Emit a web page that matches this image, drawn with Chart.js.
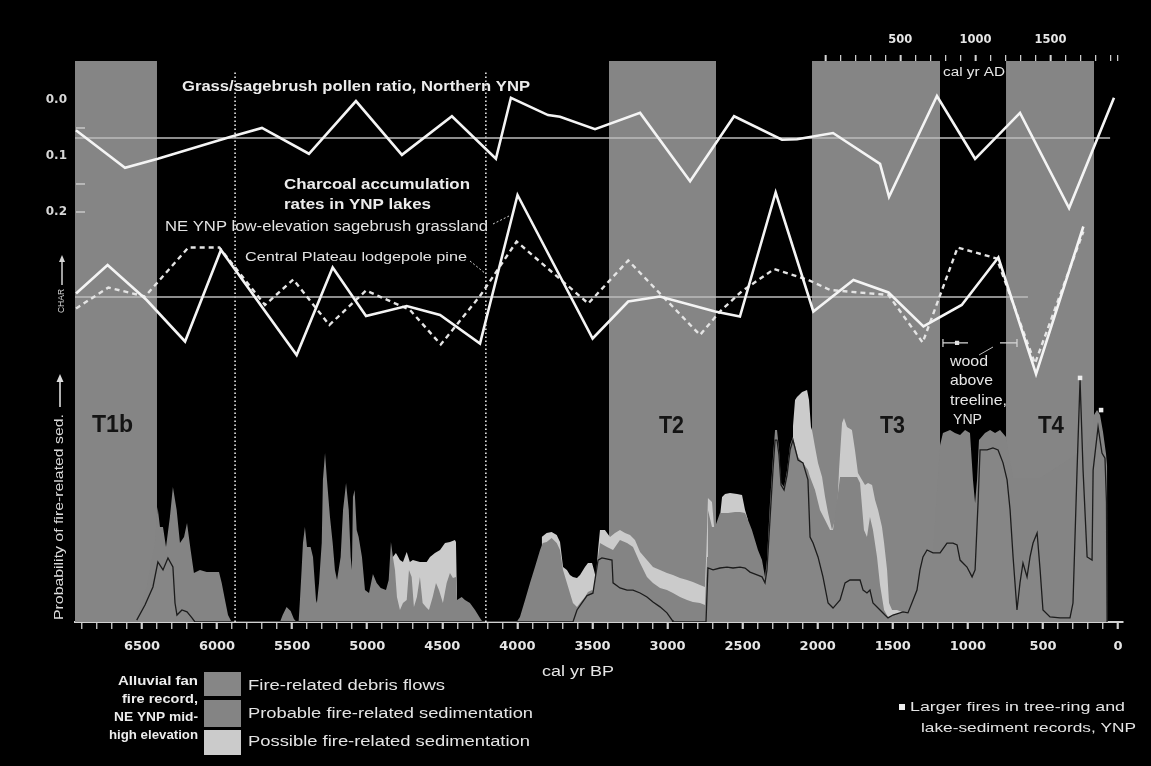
<!DOCTYPE html>
<html>
<head>
<meta charset="utf-8">
<title>Fire, charcoal and pollen records, Yellowstone</title>
<script src="https://cdn.jsdelivr.net/npm/chart.js@4.4.1/dist/chart.umd.min.js"></script>
<style>
  html, body { margin: 0; padding: 0; background: #000; }
  #wrap { width: 1151px; height: 766px; }
</style>
</head>
<body>
<div id="wrap"><canvas id="chart" width="1151" height="766"></canvas></div>
<script>
// ---------------------------------------------------------------
// Data (time in cal yr BP)
// ---------------------------------------------------------------
const BP_MIN = -33, BP_MAX = 6946;

// Dry intervals (shaded)
const phaseNames = ['T1b', 'T2', 'T3', 'T4'];
const phaseStart = [6950, 3390, 2038, 746];
const phaseEnd   = [6400, 2677, 1185, 160];

// Dotted dividers
const dividerYears = [5880, 4210];

// Grass/sagebrush pollen ratio, Northern YNP
const pollenYears = [6940, 6613, 6394, 5914, 5701, 5388, 5075, 4769, 4436, 4143, 4043, 3796, 3716, 3483, 3183, 2850, 2557, 2238, 2138, 1898, 1585, 1525, 1206, 952, 653, 326, 27];
const pollenRatio = [0.054, 0.121, 0.105, 0.066, 0.050, 0.096, 0.002, 0.098, 0.029, 0.105, -0.004, 0.027, 0.030, 0.052, 0.023, 0.145, 0.029, 0.071, 0.070, 0.059, 0.114, 0.173, -0.007, 0.105, 0.023, 0.193, -0.004];
const pollenMean = 0.068;
const pollenMeanSpan = [6946, 53];

// Charcoal accumulation (anomaly from record mean)
const charNEYears = [6939, 6729, 6469, 6213, 5974, 5470, 5230, 5008, 4737, 4515, 4249, 3999, 3499, 3262, 3051, 2684, 2518, 2280, 2029, 1762, 1529, 1296, 1041, 797, 546, 231];
const charNE      = [0.07, 0.64, -0.06, -0.89, 0.94, -1.16, 0.59, -0.38, -0.18, -0.36, -0.93, 2.04, -0.83, -0.09, 0.01, -0.29, -0.39, 2.09, -0.29, 0.34, 0.09, -0.59, -0.16, 0.79, -1.54, 1.41];
const charCPYears = [6939, 6724, 6480, 6191, 5985, 5681, 5492, 5252, 5008, 4715, 4510, 4249, 4005, 3528, 3262, 2784, 2651, 2507, 2290, 2062, 1918, 1529, 1301, 1068, 808, 553, 231];
const charCP      = [-0.23, 0.19, 0.01, 0.99, 0.99, -0.16, 0.35, -0.56, 0.13, -0.26, -0.95, 0.02, 1.11, -0.13, 0.73, -0.76, -0.29, 0.11, 0.56, 0.34, 0.14, 0.04, -0.91, 0.99, 0.77, -1.33, 1.31];
const charMeanSpan = [6946, 600];

// Alluvial-fan fire record: cumulative probability curves [cal yr BP, probability]
const debrisFlows = [
  [6535,0.008],[6480,0.071],[6427,0.146],[6394,0.25],[6360,0.217],[6327,0.267],[6294,0.229],[6280,0.079],[6267,0.029],[6234,0.05],[6200,0.042],[6167,0.017],[6147,0],
  [3630,0],[3603,0.05],[3536,0.11],[3497,0.12],[3463,0.258],[3437,0.267],[3370,0.258],[3363,0.163],[3317,0.142],[3270,0.133],[3230,0.133],[3183,0.121],[3137,0.104],[3097,0.083],[3050,0.063],[3004,0.038],[2970,0.008],[2964,0],
  [2744,0],[2731,0.225],[2697,0.217],[2651,0.225],[2604,0.229],[2564,0.225],[2517,0.229],[2484,0.225],[2451,0.208],[2404,0.196],[2371,0.188],[2351,0.163],[2338,0.217],[2318,0.425],[2298,0.633],[2284,0.758],[2271,0.758],[2258,0.696],[2244,0.571],[2224,0.55],[2204,0.613],[2184,0.717],[2165,0.758],[2131,0.675],[2098,0.663],[2065,0.592],[2051,0.354],[2031,0.329],[1998,0.271],[1965,0.188],[1931,0.079],[1898,0.058],[1851,0.092],[1818,0.163],[1785,0.175],[1718,0.175],[1698,0.133],[1672,0.121],[1652,0.133],[1632,0.079],[1585,0.05],[1552,0.029],[1532,0.017],[1499,0.029],[1432,0.042],[1399,0.038],[1365,0.092],[1339,0.133],[1319,0.217],[1299,0.271],[1272,0.3],[1232,0.288],[1185,0.288],[1139,0.329],[1099,0.329],[1072,0.321],[1052,0.258],[1006,0.229],[972,0.188],[952,0.217],[932,0.5],[919,0.717],[872,0.717],[833,0.725],[799,0.717],[766,0.663],[739,0.592],[719,0.467],[699,0.271],[673,0.05],[653,0.163],[633,0.246],[606,0.188],[586,0.271],[566,0.329],[539,0.371],[519,0.217],[500,0.05],[453,0.021],[386,0.017],[320,0.017],[300,0.079],[273,0.633],[253,1.008],[233,0.633],[206,0.271],[173,0.258],[166,0.633],[133,0.813],[107,0.704],[87,0.683],[77,0.5],[73,0]
];
const probableSed = [
  [6535,0.017],[6469,0.146],[6414,0.329],[6396,0.479],[6380,0.396],[6360,0.396],[6340,0.313],[6314,0.438],[6294,0.563],[6269,0.467],[6247,0.329],[6220,0.354],[6200,0.413],[6176,0.3],[6154,0.204],[6114,0.217],[6069,0.208],[5987,0.208],[5969,0.163],[5947,0.092],[5927,0.029],[5903,0],
  [5581,0],[5563,0.029],[5537,0.063],[5510,0.046],[5488,0.013],[5470,0],[5457,0],[5448,0.092],[5437,0.217],[5428,0.329],[5415,0.396],[5401,0.313],[5377,0.313],[5361,0.271],[5341,0.092],[5335,0.079],[5321,0.163],[5303,0.329],[5295,0.592],[5281,0.704],[5268,0.592],[5248,0.438],[5230,0.329],[5215,0.217],[5201,0.175],[5177,0.271],[5161,0.467],[5141,0.579],[5123,0.467],[5110,0.271],[5102,0.217],[5095,0.521],[5084,0.55],[5070,0.383],[5057,0.354],[5035,0.271],[5015,0.133],[4988,0.121],[4962,0.2],[4937,0.163],[4910,0.142],[4875,0.133],[4857,0.175],[4842,0.333],[4829,0.271],[4815,0.217],[4802,0.104],[4782,0.05],[4762,0.079],[4737,0.092],[4722,0.217],[4704,0.188],[4689,0.063],[4669,0.104],[4649,0.188],[4631,0.079],[4609,0.063],[4589,0.05],[4564,0.104],[4542,0.163],[4522,0.133],[4496,0.079],[4471,0.163],[4449,0.204],[4429,0.183],[4409,0.188],[4402,0.092],[4371,0.104],[4349,0.092],[4316,0.079],[4282,0.05],[4249,0.017],[4231,0],
  [4005,0],[3983,0.021],[3949,0.092],[3916,0.163],[3883,0.229],[3849,0.3],[3831,0.329],[3805,0.333],[3772,0.35],[3738,0.329],[3716,0.3],[3696,0.217],[3670,0.163],[3650,0.121],[3630,0.079],[3603,0.063],[3583,0.079],[3550,0.104],[3530,0.125],[3503,0.133],[3483,0.121],[3470,0.163],[3463,0.271],[3450,0.329],[3403,0.313],[3363,0.3],[3317,0.342],[3270,0.329],[3230,0.313],[3183,0.246],[3137,0.188],[3097,0.163],[3050,0.142],[3004,0.133],[2964,0.121],[2917,0.104],[2870,0.092],[2831,0.083],[2784,0.079],[2751,0.071],[2737,0.271],[2731,0.467],[2704,0.396],[2684,0.396],[2651,0.454],[2597,0.454],[2551,0.458],[2517,0.458],[2484,0.454],[2464,0.425],[2438,0.383],[2418,0.342],[2398,0.3],[2371,0.258],[2351,0.188],[2338,0.258],[2318,0.496],[2298,0.688],[2284,0.8],[2271,0.8],[2258,0.721],[2244,0.579],[2224,0.563],[2204,0.633],[2184,0.738],[2165,0.771],[2131,0.688],[2098,0.663],[2065,0.633],[2051,0.604],[2018,0.55],[1985,0.467],[1951,0.425],[1918,0.383],[1898,0.383],[1871,0.508],[1851,0.604],[1805,0.604],[1738,0.604],[1718,0.579],[1692,0.383],[1672,0.354],[1652,0.438],[1632,0.383],[1605,0.271],[1585,0.154],[1558,0.05],[1532,0.021],[1485,0.029],[1419,0.021],[1372,0.017],[1339,0.133],[1299,0.271],[1232,0.29],[1205,0.55],[1185,0.738],[1166,0.788],[1119,0.8],[1086,0.788],[1052,0.779],[1019,0.8],[986,0.788],[966,0.592],[952,0.496],[939,0.592],[926,0.758],[886,0.788],[852,0.8],[819,0.788],[786,0.8],[746,0.771],[699,0.6],[519,0.6],[273,0.7],[253,1.01],[233,0.7],[166,0.8],[160,0.863],[140,0.883],[120,0.863],[100,0.792],[80,0.7],[73,0.65],[70,0]
];
const possibleSed = [
  [[4829,0.271],[4809,0.288],[4782,0.258],[4762,0.25],[4737,0.292],[4716,0.25],[4696,0.258],[4649,0.25],[4604,0.25],[4582,0.271],[4549,0.288],[4515,0.3],[4482,0.329],[4449,0.333],[4416,0.342],[4409,0.333],[4402,0.092]],
  [[3838,0.354],[3805,0.371],[3772,0.375],[3738,0.363],[3716,0.333],[3696,0.229],[3670,0.217],[3650,0.196],[3630,0.188],[3603,0.183],[3583,0.196],[3550,0.229],[3530,0.246],[3503,0.246],[3490,0.217],[3477,0.183],[3463,0.3],[3450,0.383],[3417,0.383],[3383,0.354],[3350,0.371],[3317,0.383],[3283,0.371],[3250,0.363],[3217,0.342],[3183,0.292],[3137,0.258],[3097,0.229],[3050,0.217],[3004,0.204],[2964,0.196],[2917,0.183],[2870,0.175],[2831,0.167],[2784,0.154],[2751,0.146],[2741,0.3],[2731,0.517],[2704,0.5],[2690,0.396],[2671,0.396],[2651,0.438],[2637,0.521],[2617,0.533],[2584,0.538],[2537,0.533],[2504,0.529],[2484,0.467],[2464,0.425]],
  [[2165,0.813],[2151,0.925],[2138,0.938],[2104,0.958],[2071,0.967],[2058,0.925],[2045,0.813],[2038,0.8],[2018,0.729],[1998,0.663],[1971,0.604],[1951,0.521],[1931,0.454],[1905,0.383],[1871,0.454],[1858,0.633],[1838,0.829],[1825,0.85],[1805,0.813],[1772,0.8],[1752,0.717],[1732,0.621],[1705,0.592],[1685,0.571],[1665,0.579],[1638,0.571],[1618,0.508],[1598,0.467],[1572,0.396],[1558,0.329],[1538,0.217],[1525,0.079],[1505,0.05],[1472,0.05],[1439,0.042],[1405,0.029]]
];

// Larger fires in tree-ring and lake-sediment records
const largeFireYears = [253, 113];
const largeFireLevel = [1.017, 0.883];

// Wood above present treeline (age range and central age)
const woodRange = [1166, 673];
const woodGap = [999, 786];
const woodCentral = 1072;
const woodLevel = 1.163;

// Tick values
const bpTicks = []; for (let v = 0; v <= 6900; v += 100) bpTicks.push(v);
const adTicks = []; for (let v = 0; v <= 1900; v += 100) adTicks.push(v); adTicks.push(1950);
const ratioTicks = [0, 0.1, 0.2];

// ---------------------------------------------------------------
// Styles
// ---------------------------------------------------------------
const BAND = '#858585';
const GRAY = '#848484';
const LIGHT = '#cbcbcb';
const LINE = '#f4f4f4';
const TEXT = '#ececec';

const P_MAX = 2.3375;  // probability at the top of the plot
const pts = arr => arr.map(([x, y]) => ({ x, y }));
const zip = (xs, ys) => xs.map((x, i) => ({ x, y: ys[i] }));
const segs = list => list.flatMap((s, i) => (i ? [{ x: (list[i - 1][list[i - 1].length - 1][0] + s[0][0]) / 2, y: null }] : []).concat(pts(s)));

const datasets = [];

phaseNames.forEach((name, i) => {
  datasets.push({
    label: name, yAxisID: 'yP', order: 100,
    data: [{ x: phaseStart[i], y: P_MAX }, { x: phaseEnd[i], y: P_MAX }],
    backgroundColor: BAND, borderWidth: 0, pointRadius: 0, fill: 'origin'
  });
});

datasets.push({
  label: 'Possible fire-related sedimentation', yAxisID: 'yP', order: 90,
  data: segs(possibleSed), backgroundColor: LIGHT, borderWidth: 0, pointRadius: 0, fill: 'origin', spanGaps: false
});
datasets.push({
  label: 'Probable fire-related sedimentation', yAxisID: 'yP', order: 80,
  data: pts(probableSed), backgroundColor: GRAY, borderWidth: 0, pointRadius: 0, fill: 'origin'
});
datasets.push({
  label: 'Fire-related debris flows', yAxisID: 'yP', order: 70,
  data: pts(debrisFlows), backgroundColor: '#868686', borderColor: '#1c1c1c', borderWidth: 1.3,
  pointRadius: 0, fill: 'origin'
});

dividerYears.forEach(v => {
  datasets.push({
    label: 'divider', yAxisID: 'yP', order: 60,
    data: [{ x: v, y: 0 }, { x: v, y: 2.3 }],
    borderColor: '#e8e8e8', borderWidth: 1.6, borderDash: [1.6, 2.4], pointRadius: 0, fill: false
  });
});

datasets.push({
  label: 'pollen mean', yAxisID: 'yR', order: 50,
  data: pollenMeanSpan.map(x => ({ x, y: pollenMean })),
  borderColor: '#bdbdbd', borderWidth: 1.5, pointRadius: 0, fill: false
});
datasets.push({
  label: 'charcoal mean', yAxisID: 'yC', order: 50,
  data: charMeanSpan.map(x => ({ x, y: 0 })),
  borderColor: '#bdbdbd', borderWidth: 1.5, pointRadius: 0, fill: false
});

datasets.push({
  label: 'Central Plateau lodgepole pine', yAxisID: 'yC', order: 41,
  data: zip(charCPYears, charCP), borderColor: '#e4e4e4', borderWidth: 2.4,
  borderDash: [5, 4], pointRadius: 0, fill: false
});
datasets.push({
  label: 'NE YNP low-elevation sagebrush grassland', yAxisID: 'yC', order: 40,
  data: zip(charNEYears, charNE), borderColor: LINE, borderWidth: 2.6, pointRadius: 0, fill: false
});
datasets.push({
  label: 'Grass/sagebrush pollen ratio, Northern YNP', yAxisID: 'yR', order: 30,
  data: zip(pollenYears, pollenRatio), borderColor: LINE, borderWidth: 2.6, pointRadius: 0, fill: false
});

datasets.push({
  label: 'wood above treeline', yAxisID: 'yP', order: 20,
  data: [{ x: woodRange[0], y: woodLevel }, { x: woodGap[0], y: woodLevel }, { x: (woodGap[0] + woodGap[1]) / 2, y: null },
         { x: woodGap[1], y: woodLevel }, { x: woodRange[1], y: woodLevel }],
  borderColor: '#d8d8d8', borderWidth: 1.2, fill: false,
  pointRadius: [4, 0, 0, 0, 4], pointStyle: 'line', rotation: 90, pointBorderColor: '#d8d8d8', pointBorderWidth: 1.2
});
datasets.push({
  label: 'wood central age', type: 'scatter', yAxisID: 'yP', order: 19,
  data: [{ x: woodCentral, y: woodLevel }],
  pointStyle: 'rect', pointRadius: 3, backgroundColor: '#e0e0e0', borderWidth: 0
});
datasets.push({
  label: 'Larger fires in tree-ring and lake-sediment records, YNP', type: 'scatter', yAxisID: 'yP', order: 18,
  data: zip(largeFireYears, largeFireLevel),
  pointStyle: 'rect', pointRadius: 3.2, backgroundColor: '#ededed', borderWidth: 0
});

// ---------------------------------------------------------------
// Text drawn onto the canvas
// ---------------------------------------------------------------
function fitText(ctx, text, x, y, font, color, width, align) {
  ctx.save();
  ctx.font = font;
  ctx.fillStyle = color;
  ctx.textBaseline = 'middle';
  ctx.textAlign = 'left';
  const w = ctx.measureText(text).width;
  const tw = width || w;
  let left = x;
  if (align === 'center') left = x - tw / 2;
  else if (align === 'right') left = x - tw;
  ctx.translate(left, y);
  ctx.scale(tw / w, 1);
  ctx.fillText(text, 0, 0);
  ctx.restore();
}

function line(ctx, pts, color, width, dash) {
  ctx.save();
  ctx.strokeStyle = color; ctx.lineWidth = width;
  ctx.setLineDash(dash || []);
  ctx.beginPath();
  pts.forEach(([x, y], i) => (i ? ctx.lineTo(x, y) : ctx.moveTo(x, y)));
  ctx.stroke();
  ctx.restore();
}

const SANS = '"Liberation Sans", Arial, sans-serif';

const annotations = {
  id: 'annotations',
  afterDraw(chart) {
    const ctx = chart.ctx;
    const yR = chart.scales.yR;
    const left = chart.chartArea.left;

    // small ticks of the pollen axis
    [0.05, 0.15, 0.2].forEach(v => {
      const y = yR.getPixelForValue(v);
      line(ctx, [[left + 1, y], [left + 10, y]], '#c4c4c4', 1.6);
    });

    // series titles
    fitText(ctx, 'Grass/sagebrush pollen ratio, Northern YNP', 182, 87, 'bold 14px ' + SANS, TEXT, 348);
    fitText(ctx, 'Charcoal accumulation', 284, 185, 'bold 14px ' + SANS, TEXT, 186);
    fitText(ctx, 'rates in YNP lakes', 284, 205, 'bold 14px ' + SANS, TEXT, 147);
    fitText(ctx, 'NE YNP low-elevation sagebrush grassland', 165, 227, '14px ' + SANS, '#e2e2e2', 323);
    fitText(ctx, 'Central Plateau lodgepole pine', 245, 257, '13px ' + SANS, '#e2e2e2', 222);
    line(ctx, [[493, 224], [509, 216]], '#cfcfcf', 1, [2, 2]);
    line(ctx, [[470, 261], [486, 274]], '#cfcfcf', 1, [2, 2]);

    // interval labels
    const tFont = 'bold 24px ' + SANS;
    fitText(ctx, 'T1b', 92, 425, tFont, '#141414', 41);
    fitText(ctx, 'T2', 659, 426, tFont, '#141414', 25);
    fitText(ctx, 'T3', 880, 426, tFont, '#141414', 25);
    fitText(ctx, 'T4', 1038, 426, tFont, '#141414', 26);

    // wood above treeline note
    const wFont = '15px ' + SANS;
    fitText(ctx, 'wood', 950, 362, wFont, '#e6e6e6', 38);
    fitText(ctx, 'above', 950, 381, wFont, '#e6e6e6', 43);
    fitText(ctx, 'treeline,', 950, 401, wFont, '#e6e6e6', 57);
    fitText(ctx, 'YNP', 953, 420, wFont, '#e6e6e6', 29);
    line(ctx, [[993, 347], [979, 355]], '#bdbdbd', 1);

    // axis titles
    fitText(ctx, 'cal yr AD', 943, 73, '12px ' + SANS, '#e6e6e6', 62);
    fitText(ctx, 'cal yr BP', 578, 672, '14px ' + SANS, '#e6e6e6', 72, 'center');

    // rotated y titles
    ctx.save();
    ctx.translate(60, 620);
    ctx.rotate(-Math.PI / 2);
    fitText(ctx, 'Probability of fire-related sed.', 0, 0, '12px ' + SANS, '#dcdcdc', 206);
    line(ctx, [[213, 0], [240, 0]], '#dcdcdc', 1.6);
    ctx.fillStyle = '#dcdcdc';
    ctx.beginPath(); ctx.moveTo(246, 0); ctx.lineTo(238, -3.5); ctx.lineTo(238, 3.5); ctx.closePath(); ctx.fill();
    ctx.restore();

    ctx.save();
    ctx.translate(62, 313);
    ctx.rotate(-Math.PI / 2);
    fitText(ctx, 'CHAR', 0, 0, '9px ' + SANS, '#d4d4d4', 24);
    line(ctx, [[28, 0], [52, 0]], '#d4d4d4', 1.5);
    ctx.fillStyle = '#d4d4d4';
    ctx.beginPath(); ctx.moveTo(58, 0); ctx.lineTo(51, -3); ctx.lineTo(51, 3); ctx.closePath(); ctx.fill();
    ctx.restore();

    // legend: alluvial fan record
    const lFont = 'bold 12px ' + SANS;
    fitText(ctx, 'Alluvial fan', 198, 682, lFont, TEXT, 80, 'right');
    fitText(ctx, 'fire record,', 198, 700, lFont, TEXT, 76, 'right');
    fitText(ctx, 'NE YNP mid-', 198, 718, lFont, TEXT, 84, 'right');
    fitText(ctx, 'high elevation', 198, 736, lFont, TEXT, 89, 'right');

    const byLabel = l => chart.data.datasets.find(d => d.label === l);
    const rows = [
      { d: byLabel('Fire-related debris flows'), y0: 672, y1: 696, ty: 686, w: 197 },
      { d: byLabel('Probable fire-related sedimentation'), y0: 700, y1: 727, ty: 714, w: 285 },
      { d: byLabel('Possible fire-related sedimentation'), y0: 730, y1: 755, ty: 742, w: 282 }
    ];
    rows.forEach(r => {
      ctx.fillStyle = r.d.backgroundColor;
      ctx.fillRect(204, r.y0, 37, r.y1 - r.y0);
      fitText(ctx, r.d.label, 248, r.ty, '14px ' + SANS, '#e4e4e4', r.w);
    });

    // legend: larger fires
    const lf = byLabel('Larger fires in tree-ring and lake-sediment records, YNP');
    ctx.fillStyle = lf.backgroundColor;
    ctx.fillRect(899, 704, 6, 6);
    fitText(ctx, 'Larger fires in tree-ring and', 910, 707, '13px ' + SANS, '#e4e4e4', 215);
    fitText(ctx, 'lake-sediment records, YNP', 921, 728, '13px ' + SANS, '#e4e4e4', 215);
  }
};

// ---------------------------------------------------------------
// Chart
// ---------------------------------------------------------------
const tickFont = { family: 'DejaVu Sans', size: 13, weight: 'bold' };

new Chart(document.getElementById('chart'), {
  type: 'line',
  data: { datasets },
  options: {
    responsive: false,
    devicePixelRatio: 1,
    animation: false,
    events: [],
    layout: { padding: { left: 0, right: 28, top: 0, bottom: 0 } },
    plugins: { legend: { display: false }, tooltip: { enabled: false } },
    scales: {
      x: {
        type: 'linear', position: 'bottom', reverse: true, min: BP_MIN, max: BP_MAX,
        afterFit: s => { s.height = 144; },
        afterBuildTicks: s => { s.ticks = bpTicks.map(v => ({ value: v })); },
        ticks: {
          autoSkip: false, maxRotation: 0, padding: 10, color: '#e6e6e6', font: tickFont,
          callback: v => (v % 500 === 0 ? String(v) : '')
        },
        grid: {
          drawOnChartArea: false, color: '#cfcfcf', tickLength: 7, lineWidth: 1.5,
          tickWidth: c => (c.tick && c.tick.value % 500 === 0 ? 2.2 : 1.3)
        },
        border: { color: '#d2d2d2', width: 2 }
      },
      xAD: {
        type: 'linear', position: 'top', min: 1950 - BP_MAX, max: 1950 - BP_MIN,
        afterFit: s => { s.height = 61; },
        afterBuildTicks: s => { s.ticks = adTicks.map(v => ({ value: v })); },
        ticks: {
          autoSkip: false, maxRotation: 0, padding: 8, color: '#e6e6e6',
          font: { family: 'DejaVu Sans', size: 11.5, weight: 'bold' },
          callback: v => (v % 500 === 0 && v > 0 ? String(v) : '')
        },
        grid: {
          drawOnChartArea: false, color: '#d6d6d6', tickLength: 6, lineWidth: 1.3,
          tickWidth: c => (c.tick && c.tick.value % 500 === 0 ? 2 : 1.2)
        },
        border: { display: false }
      },
      yR: {
        type: 'linear', position: 'left', reverse: true, min: -0.0696, max: 0.9321,
        afterFit: s => { s.width = 75; },
        afterBuildTicks: s => { s.ticks = ratioTicks.map(v => ({ value: v })); },
        ticks: {
          padding: 8, color: '#d6d6d6', font: { family: 'DejaVu Sans', size: 12, weight: 'bold' },
          callback: v => v.toFixed(1)
        },
        grid: { display: false, drawTicks: false },
        border: { display: false }
      },
      yC: { type: 'linear', display: false, min: -6.5, max: 4.72 },
      yP: { type: 'linear', display: false, min: 0, max: P_MAX }
    }
  },
  plugins: [annotations]
});
</script>
</body>
</html>
